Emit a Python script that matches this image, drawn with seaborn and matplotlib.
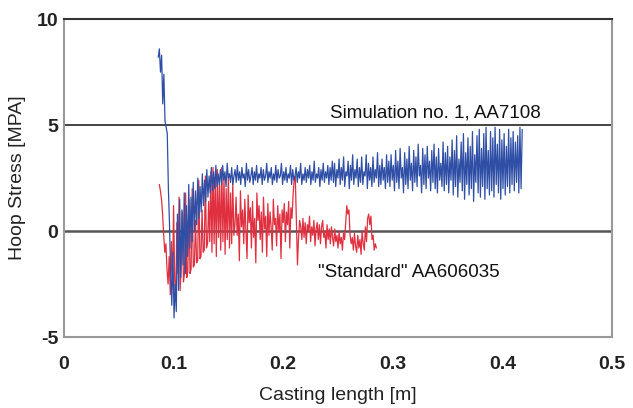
import seaborn as sns
import pandas as pd
import numpy as np
import matplotlib
import matplotlib.pyplot as plt

matplotlib.use('Agg')

# simulation no. 1 (AA7108), sampled every 1 mm of casting length
blue_start, blue_end = 0.086, 0.418
blue_stress = [
    8.2, 8.6, 7.5, 8.3, 6.0, 7.4, 5.2, 4.9, 4.6, 2.0, 0.3,
    -2.0, -3.5, -1.0, -4.1, -2.5, -3.8, 0.8, -2.8, 1.5, -2.2, 1.0, -1.6, 1.8, -2.0,
    1.2, -1.2, 2.2, -0.8, 1.6, -0.5, 2.3, 0.0, 1.9, 0.3, 2.5, 0.6, 2.1, 0.9, 2.7,
    1.2, 2.4, 1.4, 2.9, 1.6, 2.6, 1.8, 3.0, 1.9, 2.8, 2.0, 3.1, 2.1, 2.7, 2.2,
    2.9, 2.2, 3.1, 2.4, 2.8, 2.1, 3.2, 2.5, 2.7, 2.3,
    3.0, 2.2, 2.6, 2.9, 2.3, 3.1, 2.4, 2.8, 2.2, 3.0,
    2.5, 2.7, 2.1, 3.2, 2.4, 2.9, 2.3, 2.6, 3.0, 2.2,
    2.8, 2.4, 3.1, 2.3, 2.7, 2.5, 3.0, 2.2, 2.9, 2.4,
    2.6, 3.2, 2.3, 2.8, 2.5, 3.0, 2.2, 2.7, 2.4, 3.1,
    2.3, 2.9, 2.5, 2.6, 3.2, 2.2, 2.8, 2.4, 3.0, 2.3,
    2.7, 2.5, 3.1, 2.2, 2.9, 2.4, 2.6, 3.0, 2.3, 2.8,
    2.5, 3.2, 2.2, 2.7, 2.4, 3.0, 2.3, 2.9, 2.5, 3.1,
    2.2, 2.8, 2.4, 3.3, 2.3, 2.7, 2.5, 3.0, 2.1, 2.9,
    2.4, 3.2, 2.3, 2.8, 2.5, 3.1, 2.2, 3.0, 2.4, 3.3,
    2.3, 3.2, 2.1, 2.9, 2.5, 3.4, 2.2, 3.0, 2.4, 3.5,
    2.1, 2.8, 2.6, 3.3, 2.0, 3.1, 2.4, 3.6, 2.2, 2.9,
    2.5, 3.4, 2.1, 3.0, 2.3, 3.5, 2.2, 2.8, 2.6, 3.6,
    2.0, 3.2, 2.4, 3.0, 2.1, 3.5, 2.3, 2.9, 2.5, 3.7,
    2.1, 3.1, 2.2, 3.4, 2.4, 3.0, 2.0, 3.6, 2.3, 3.3,
    2.1, 3.6, 2.4, 3.1, 1.9, 3.8, 2.3, 3.3, 2.0, 3.9,
    2.5, 3.0, 1.8, 3.7, 2.2, 3.4, 2.0, 4.0, 2.4, 3.2,
    1.9, 3.8, 2.3, 3.5, 2.1, 4.1, 2.6, 3.1, 1.8, 3.9,
    2.2, 3.6, 2.0, 4.0, 2.5, 3.3, 1.9, 3.8, 2.3, 4.1,
    2.0, 3.5, 1.8, 3.9, 2.4, 3.2, 2.1, 4.2, 1.9, 3.7,
    2.2, 4.0, 1.8, 3.5, 2.4, 4.3, 1.7, 3.8, 2.1, 4.5,
    1.6, 3.4, 2.3, 4.2, 1.9, 4.6, 1.5, 3.7, 2.2, 4.4,
    1.7, 4.0, 2.0, 4.7, 1.4, 3.6, 2.3, 4.5, 1.8, 4.8,
    1.6, 3.9, 2.1, 4.6, 1.5, 4.9, 2.0, 3.8, 1.7, 4.7,
    1.9, 4.4, 1.6, 4.9, 2.2, 4.1, 1.8, 4.8, 1.5, 4.3,
    2.0, 4.6, 1.7, 4.0, 2.1, 4.8, 1.8, 4.4, 2.2, 4.7,
    1.9, 4.2, 2.3, 4.5, 1.8, 4.9, 2.0, 4.8,
]

# "standard" AA606035
red_start, red_end = 0.087, 0.285
red_stress = [
    2.2, 1.9, 1.5, 0.8, -0.2, -1.0, -0.6, -1.8, -2.5, -1.2,
    -3.0, -0.5, -2.6, 1.2, -2.2, -3.3, 0.4, -2.0, 1.6, -2.8, -1.5, 0.9, -2.4, -2.0, 1.8, -2.2,
    -1.9, 1.5, -2.0, -1.8, 2.0, -1.7, -1.6, 0.5, -1.5, -1.4, 2.4, -1.3, -1.2, 1.0, -1.0,
    -0.9, 2.6, -0.8, -0.6, 1.4, -0.5,
    2.8, -1.0, 3.0, -0.6, 2.5, -1.2, 2.9, -0.3, 2.2, -0.9, 3.0, -0.5, 2.6, -1.1, 2.0,
    -0.4, 2.7, -0.8, 1.8, -0.6, 2.3, -0.2,
    0.3, 1.6, -0.2, 0.8, -1.4, 1.9, 0.2, 1.0, -0.6, 1.5, 0.0, -1.3, 1.7, 0.4, 1.1,
    -0.8, 1.4, -0.3, 0.6, -1.5, 1.8, 0.5, 1.2, -0.4, 0.9, -1.0, 1.6, 0.1, 0.7, -1.2,
    1.3, -0.2, 0.9, 0.2, -0.9, 1.5, 0.3, 0.6, -0.7, 1.2, 0.0, 0.8, -1.3, 1.0, 0.4,
    1.3, -0.5, 0.9, 0.3, 1.4, -0.8, 1.1, 0.6, 1.7, 2.4,
    2.6, 0.4, -1.6, -0.3, 0.5,
    0.2, -0.4, 0.6, -0.3, 0.4, -0.6, 0.3, 0.0, 0.7, -0.5, 0.2, -0.2, 0.5, -0.7, 0.1,
    0.4, -0.4, 0.3, -0.6, 0.2, 0.5, -0.3, 0.0, -0.8, 0.3, -0.4, 0.1, -0.6, 0.2, -0.3,
    -0.7, 0.1, -0.5, -0.2, -0.8, 0.0, -0.6, -0.3, -0.9, -0.1, -0.4,
    0.4, 1.2, 0.8, 1.0, -0.2, -0.6,
    -0.3, -0.9, -0.1, -0.7, -1.0, -0.2, -0.8, -0.4, -1.1, 0.0, -0.6, -0.9, 0.2, -0.5,
    0.6, 0.8, 0.3, 0.7, -0.4, -0.2, -0.9, -0.6, -0.8,
]

x_ticks = [0, 0.1, 0.2, 0.3, 0.4, 0.5]
x_tick_labels = ['0', '0.1', '0.2', '0.3', '0.4', '0.5']
y_ticks = [-5, 0, 5, 10]
y_tick_labels = ['-5', '0', '5', '10']

blue_df = pd.DataFrame({'Casting length': np.linspace(blue_start, blue_end, len(blue_stress)),
                        'Hoop stress': blue_stress, 'Series': 'sim'})
red_df = pd.DataFrame({'Casting length': np.linspace(red_start, red_end, len(red_stress)),
                       'Hoop stress': red_stress, 'Series': 'std'})
plotData = pd.concat([red_df, blue_df], ignore_index=True)

sns.set_theme(style="white")
plt.rcParams['font.family'] = ['Liberation Sans', 'DejaVu Sans']

fig = plt.figure(figsize=(6.33, 4.08), dpi=100)
ax = fig.add_axes([0.101, 0.174, 0.866, 0.779])

ax.axhline(5, color='#111111', lw=1.1, zorder=1)
ax.axhline(0, color='#555555', lw=1.8, zorder=1)

sns.lineplot(data=plotData, x='Casting length', y='Hoop stress', hue='Series',
             palette={'sim': '#2f4fa6', 'std': '#e0303f'}, estimator=None, sort=False,
             lw=0.9, legend=False, ax=ax, zorder=2)

ax.set_xlim(0, 0.5)
ax.set_ylim(-5, 10)
ax.set_xticks(x_ticks)
ax.set_xticklabels(x_tick_labels, fontweight='bold', fontsize=14, color='#222222')
ax.set_yticks(y_ticks)
ax.set_yticklabels(y_tick_labels, fontweight='bold', fontsize=14, color='#222222')
ax.tick_params(axis='x', length=0, pad=14)
ax.tick_params(axis='y', length=0, pad=4)

ax.set_xlabel('Casting length [m]', fontsize=14, color='#222222', labelpad=10)
ax.set_ylabel('Hoop Stress [MPA]', fontsize=14, color='#222222', labelpad=8)

for side in ['left', 'right', 'bottom']:
    ax.spines[side].set_color('#999999')
    ax.spines[side].set_linewidth(1.5)
ax.spines['top'].set_color('#333333')
ax.spines['top'].set_linewidth(1.5)

ax.text(0.3385, 5.15, 'Simulation no. 1, AA7108', fontsize=13.5,
        color='#111111', ha='center', va='bottom')
ax.text(0.232, -1.95, '"Standard" AA606035', fontsize=13.5,
        color='#111111', ha='left', va='center')

fig.savefig('out.png', dpi=100)
